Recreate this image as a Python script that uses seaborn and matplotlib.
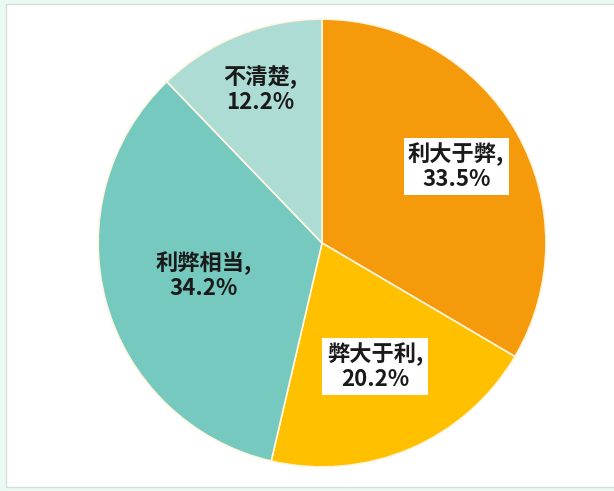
import numpy as np
import seaborn as sns
import matplotlib
matplotlib.use("Agg")
from matplotlib import pyplot as plt
from matplotlib.patches import Rectangle

# dados da pizza (sentido horario a partir do topo)
categorias = ["利大于弊", "弊大于利", "利弊相当", "不清楚"]
percentuais = [33.5, 20.2, 34.2, 12.2]
cores = ["#F59B0B", "#FFC000", "#76C9BF", "#ADDCD5"]
raio_rotulo = [0.69, 0.60, 0.55, 0.74]   # distancia do rotulo ao centro
caixa_branca = [True, True, False, False]

sns.set_theme(style="white")
plt.rcParams["font.family"] = ["Noto Sans CJK SC", "DejaVu Sans"]

fig = plt.figure(figsize=(6.14, 4.91), dpi=100)
fig.patch.set_facecolor("#EAFAF1")

# painel branco com borda fina (eixo de fundo)
fundo = fig.add_axes([0, 0, 1, 1], zorder=-1)
fundo.set_xlim(0, 614)
fundo.set_ylim(491, 0)
fundo.axis("off")
fundo.add_patch(Rectangle((6, 4), 620, 483, facecolor="white", edgecolor="#D8DEDB", linewidth=1))

ax = fig.add_axes([0.158, 0.0468, 0.733, 0.9165])
fatias, _ = ax.pie(percentuais, colors=sns.color_palette(cores), startangle=90, counterclock=False,
                   wedgeprops=dict(edgecolor="#FFF6E0", linewidth=1.2))
ax.set_xlim(-1.005, 1.005)
ax.set_ylim(-1.005, 1.005)
ax.set_aspect("equal")
ax.axis("off")

for fatia, cat, p, r, caixa in zip(fatias, categorias, percentuais, raio_rotulo, caixa_branca):
    ang = np.deg2rad((fatia.theta1 + fatia.theta2) / 2)
    x, y = r * np.cos(ang), r * np.sin(ang)
    bbox = dict(boxstyle="square,pad=0.2", facecolor="white", edgecolor="none") if caixa else None
    ax.text(x, y, f"{cat},\n{p}%", ha="center", va="center", fontsize=16, fontweight="bold",
            color="#1A1A1A", linespacing=1.1, bbox=bbox)

fig.savefig("out.png", dpi=100, facecolor=fig.get_facecolor())
